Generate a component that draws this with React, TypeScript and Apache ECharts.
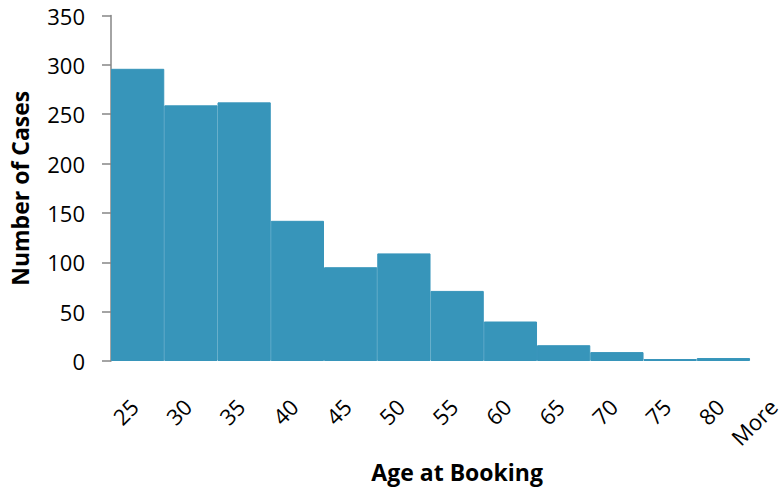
import React, { useEffect, useRef } from "react";
import * as echarts from "echarts";

const categories = ["25", "30", "35", "40", "45", "50", "55", "60", "65", "70", "75", "80", "More"];
const caseCounts = [296, 259, 262, 142, 95, 109, 71, 40, 16, 9, 2, 3, 0];
const yTicks = { min: 0, max: 350, interval: 50 };
const xTitle = "Age at Booking";
const yTitle = "Number of Cases";

const FONT = "'Open Sans', 'DejaVu Sans', sans-serif";
const BAR = "#3795BA";

export default function App() {
  const ref = useRef<HTMLDivElement>(null);
  useEffect(() => {
    if (!ref.current) return;
    const chart = echarts.init(ref.current, undefined, { renderer: "svg" });
    const barData = caseCounts.map((v) =>
      v === 0 ? { value: v, itemStyle: { borderWidth: 0 } } : v
    );
    chart.setOption({
      animation: false,
      backgroundColor: "#ffffff",
      textStyle: { fontFamily: FONT },
      grid: { left: 110, top: 15.5, height: 351.2, width: 693.3 },
      xAxis: {
        type: "category",
        data: categories,
        boundaryGap: true,
        axisLine: { show: false },
        axisTick: { show: false },
        axisLabel: {
          rotate: 45,
          margin: 38,
          fontSize: 22,
          color: "#000000",
          fontFamily: FONT,
          interval: 0,
          padding: [0, 5, 0, 0],
        },
        name: xTitle,
        nameLocation: "middle",
        nameGap: 99,
        nameTextStyle: { fontSize: 23, fontWeight: "bold", color: "#000000", fontFamily: FONT },
      },
      yAxis: {
        type: "value",
        min: yTicks.min,
        max: yTicks.max,
        interval: yTicks.interval,
        axisLine: { show: true, lineStyle: { color: "#868686", width: 1.5 } },
        axisTick: { show: true, inside: false, length: 9, lineStyle: { color: "#868686", width: 1.5 } },
        splitLine: { show: false },
        axisLabel: { margin: 26, fontSize: 22, color: "#000000", fontFamily: FONT },
        name: yTitle,
        nameLocation: "middle",
        nameRotate: 90,
        nameGap: 80,
        nameTextStyle: { fontSize: 23, fontWeight: "bold", color: "#000000", fontFamily: FONT },
      },
      series: [
        {
          type: "bar",
          data: barData,
          barCategoryGap: "0%",
          itemStyle: { color: BAR, borderColor: BAR, borderWidth: 1 },
          z: 1,
        },
      ],
    });
    return () => chart.dispose();
  }, []);
  return (
    <div
      style={{
        position: "fixed",
        left: 0,
        top: 0,
        width: 784,
        height: 488,
        overflow: "hidden",
        background: "#fff",
      }}
    >
      <div ref={ref} style={{ width: 830, height: 488 }} />
    </div>
  );
}
